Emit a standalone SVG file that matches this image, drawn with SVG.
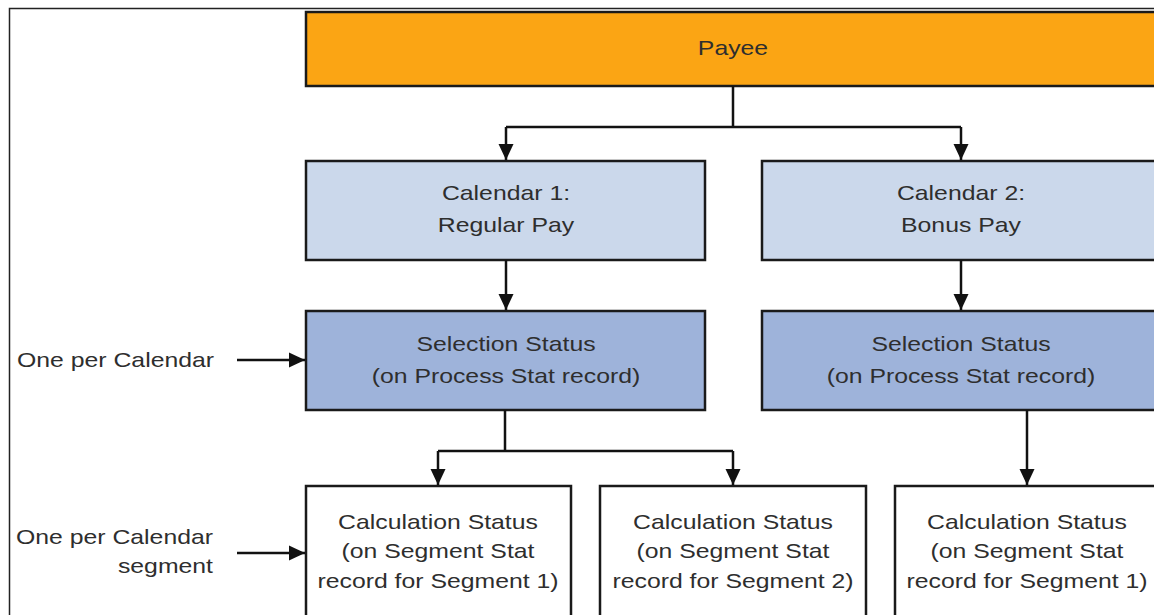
<svg xmlns="http://www.w3.org/2000/svg" width="1154" height="615" viewBox="0 0 1154 615">
<style>
.box{stroke:#1a1a1a;stroke-width:2.5}
.payee{fill:#FBA514}
.cal{fill:#CBD8EB}
.sel{fill:#9EB3DA}
.calc{fill:#ffffff}
.t{font-family:"Liberation Sans",Arial,sans-serif;font-size:20px;fill:#2e2e2e;text-anchor:middle}
.l{text-anchor:start}
.r{text-anchor:end}
.c{fill:none;stroke:#111111;stroke-width:2.5}
</style>
<defs>
<marker id="ah" markerWidth="17" markerHeight="17" refX="16" refY="8.5" orient="auto" markerUnits="userSpaceOnUse" viewBox="0 0 17 17">
<path d="M0,1 L16,8.5 L0,16 Z" fill="#111111"/>
</marker>
</defs>
<rect width="1154" height="615" fill="#ffffff"/>
<path d="M9.5 615 V8.5 H1154" fill="none" stroke="#222222" stroke-width="1.5"/>

<g id="payee">
<rect class="box payee" x="306" y="12" width="860" height="74"/>
<text class="t" transform="matrix(1.24,0,0,1,733,55)">Payee</text>
</g>
<g id="calendar1">
<rect class="box cal" x="306" y="161" width="399" height="99"/>
<text class="t" transform="matrix(1.24,0,0,1,506,200)">Calendar 1:</text>
<text class="t" transform="matrix(1.24,0,0,1,506,232)">Regular Pay</text>
</g>
<g id="calendar2">
<rect class="box cal" x="762" y="161" width="399" height="99"/>
<text class="t" transform="matrix(1.24,0,0,1,961,200)">Calendar 2:</text>
<text class="t" transform="matrix(1.24,0,0,1,961,232)">Bonus Pay</text>
</g>
<g id="selection1">
<rect class="box sel" x="306" y="311" width="399" height="99"/>
<text class="t" transform="matrix(1.24,0,0,1,506,351)">Selection Status</text>
<text class="t" transform="matrix(1.24,0,0,1,506,383)">(on Process Stat record)</text>
</g>
<g id="selection2">
<rect class="box sel" x="762" y="311" width="399" height="99"/>
<text class="t" transform="matrix(1.24,0,0,1,961,351)">Selection Status</text>
<text class="t" transform="matrix(1.24,0,0,1,961,383)">(on Process Stat record)</text>
</g>
<g id="calc1">
<rect class="box calc" x="306" y="486" width="265" height="140"/>
<text class="t" transform="matrix(1.24,0,0,1,438,529)">Calculation Status</text>
<text class="t" transform="matrix(1.24,0,0,1,438,558)">(on Segment Stat</text>
<text class="t" transform="matrix(1.24,0,0,1,438,588)">record for Segment 1)</text>
</g>
<g id="calc2">
<rect class="box calc" x="600" y="486" width="266" height="140"/>
<text class="t" transform="matrix(1.24,0,0,1,733,529)">Calculation Status</text>
<text class="t" transform="matrix(1.24,0,0,1,733,558)">(on Segment Stat</text>
<text class="t" transform="matrix(1.24,0,0,1,733,588)">record for Segment 2)</text>
</g>
<g id="calc3">
<rect class="box calc" x="895" y="486" width="265" height="140"/>
<text class="t" transform="matrix(1.24,0,0,1,1027,529)">Calculation Status</text>
<text class="t" transform="matrix(1.24,0,0,1,1027,558)">(on Segment Stat</text>
<text class="t" transform="matrix(1.24,0,0,1,1027,588)">record for Segment 1)</text>
</g>
<g id="label-calendar">
<text class="t l" transform="matrix(1.24,0,0,1,17,367)">One per Calendar</text>
</g>
<g id="label-segment">
<text class="t r" transform="matrix(1.24,0,0,1,213,544)">One per Calendar</text>
<text class="t r" transform="matrix(1.24,0,0,1,213,573)">segment</text>
</g>

<g id="connectors">
<path class="c" d="M733 86 V127 M506 127 H961"/>
<path class="c" d="M506 127 V160" marker-end="url(#ah)"/>
<path class="c" d="M961 127 V160" marker-end="url(#ah)"/>
<path class="c" d="M506 260 V310" marker-end="url(#ah)"/>
<path class="c" d="M961 260 V310" marker-end="url(#ah)"/>
<path class="c" d="M505 410 V451 M438 451 H733"/>
<path class="c" d="M438 451 V485" marker-end="url(#ah)"/>
<path class="c" d="M733 451 V485" marker-end="url(#ah)"/>
<path class="c" d="M1027 410 V485" marker-end="url(#ah)"/>
<path class="c" d="M237 360 H305" marker-end="url(#ah)"/>
<path class="c" d="M237 553 H305" marker-end="url(#ah)"/>
</g>
</svg>
